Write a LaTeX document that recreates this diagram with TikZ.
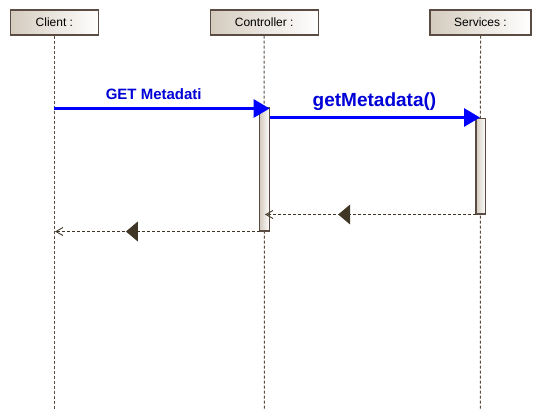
\documentclass[tikz,border=0pt]{standalone}
\usepackage{fontspec}
\setmainfont{Liberation Sans}
\usetikzlibrary{arrows.meta,decorations.markings}
\definecolor{frame}{RGB}{90,76,66}
\definecolor{boxtan}{RGB}{212,203,190}
\definecolor{retcol}{RGB}{64,54,38}
\definecolor{msgblue}{RGB}{0,0,255}
\definecolor{lblblue}{RGB}{0,0,215}
\begin{document}
\begin{tikzpicture}[x=1pt,y=-1pt,
  lifebox/.style={draw=frame,line width=1.3pt,left color=boxtan,right color=white,
    minimum height=25pt,inner sep=0pt,font=\fontsize{12}{14}\selectfont},
  lifeline/.style={draw=frame,line width=1pt,dash pattern=on 3pt off 2pt},
  actbar/.style={draw=frame,line width=1.2pt,left color=boxtan,right color=white,
    minimum width=10pt,inner sep=0pt},
  msg/.style={draw=msgblue,line width=3pt,-{Triangle[length=16pt,width=18pt]}},
  msglabel/.style={text=lblblue,font=\bfseries,anchor=base,inner sep=0pt},
  retmsg/.style={draw=retcol,line width=0.9pt,dash pattern=on 3pt off 2pt,
    -{Straight Barb[length=7pt,width=8pt,line width=0.9pt]},
    postaction={decorate,decoration={markings,
      mark=at position 0.653 with {\arrow[retcol,fill=retcol,solid]{Triangle[length=12pt,width=20pt]}}}}}
]
\useasboundingbox (0,0) rectangle (541,420);
% lifeline heads
\node[lifebox,minimum width=88pt] (client) at (54.4,22.5) {Client :};
\node[lifebox,minimum width=108pt] (ctrl) at (264.2,22.5) {Controller :};
\node[lifebox,minimum width=101pt] (serv) at (480.5,22.5) {Services :};
% lifeline ends
\coordinate (clientend) at (54.4,410);
\coordinate (ctrlend) at (264.4,410);
\coordinate (servend) at (480.4,410);
\draw[lifeline] (client.south) -- (clientend);
\draw[lifeline] (ctrl.south) -- (ctrlend);
\draw[lifeline] (serv.south) -- (servend);
% activation bars
\node[actbar,minimum height=123.7pt] (cbar) at (264.6,169.2) {};
\node[actbar,minimum width=9.7pt,minimum height=95.7pt] (sbar) at (480.8,166.2) {};
% message points
\coordinate (m1s) at (54.4,108.5);
\coordinate (m1e) at (269.6,108.5);
\coordinate (m2s) at (270,117.5);
\coordinate (m2e) at (480,117.5);
\coordinate (r1s) at (476,214.5);
\coordinate (r1e) at (265,214.5);
\coordinate (r2s) at (259.5,231.5);
\coordinate (r2e) at (55,231.5);
% messages
\draw[msg] (m1s) -- (m1e);
\draw[msg] (m2s) -- (m2e);
\node[msglabel,font=\bfseries\fontsize{15}{18}\selectfont] (l1) at (153.7,99.7) {GET Metadati};
\node[msglabel,font=\bfseries\fontsize{19}{22}\selectfont] (l2) at (374.5,106.5) {getMetadata()};
% returns
\draw[retmsg] (r1s) -- (r1e);
\draw[retmsg] (r2s) -- (r2e);
\end{tikzpicture}
\end{document}
